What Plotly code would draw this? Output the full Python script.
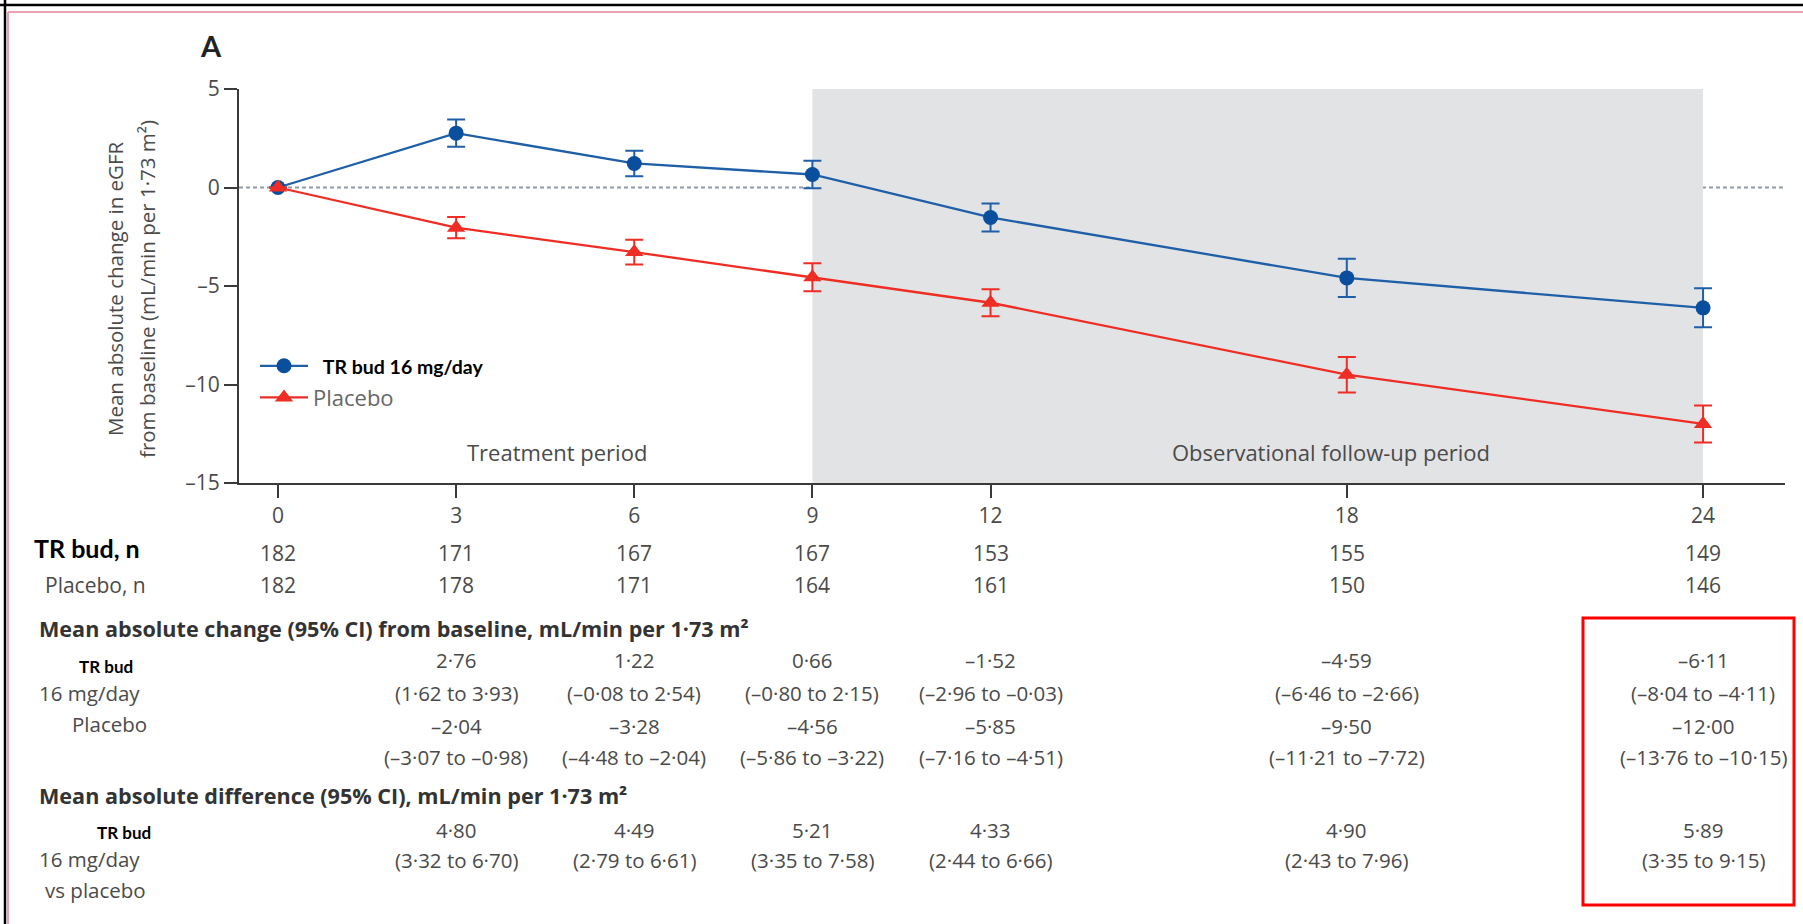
import plotly.graph_objects as go

# ---- data -------------------------------------------------------------
months = [0, 3, 6, 9, 12, 18, 24]
bud_mean = [0.0, 2.76, 1.22, 0.66, -1.52, -4.59, -6.11]
pbo_mean = [0.0, -2.04, -3.28, -4.56, -5.85, -9.50, -12.00]
bud_err = [0.0, 0.69, 0.65, 0.70, 0.71, 0.97, 0.99]
pbo_err = [0.0, 0.54, 0.63, 0.71, 0.68, 0.90, 0.94]

bud_n = [182, 171, 167, 167, 153, 155, 149]
pbo_n = [182, 178, 171, 164, 161, 150, 146]

table_months = [3, 6, 9, 12, 18, 24]
bud_change = [2.76, 1.22, 0.66, -1.52, -4.59, -6.11]
bud_change_lo = [1.62, -0.08, -0.80, -2.96, -6.46, -8.04]
bud_change_hi = [3.93, 2.54, 2.15, -0.03, -2.66, -4.11]
pbo_change = [-2.04, -3.28, -4.56, -5.85, -9.50, -12.00]
pbo_change_lo = [-3.07, -4.48, -5.86, -7.16, -11.21, -13.76]
pbo_change_hi = [-0.98, -2.04, -3.22, -4.51, -7.72, -10.15]
diff = [4.80, 4.49, 5.21, 4.33, 4.90, 5.89]
diff_lo = [3.32, 2.79, 3.35, 2.44, 2.43, 3.35]
diff_hi = [6.70, 6.61, 7.58, 6.66, 7.96, 9.15]

x_ticks = [0, 3, 6, 9, 12, 18, 24]
y_ticks = [-15, -10, -5, 0, 5]

# ---- styling ----------------------------------------------------------
BLUE = "#0a4f9e"
BLUE_LINE = "#1f5fa8"
RED = "#ee2d24"
GREY_TXT = "#4a4a4a"
AXIS = "#3a3a3a"
FONT = "Open Sans"
BOLD = "Lato"

W, H = 1803, 924
L, T, R, B = 239, 89, 1785, 483


def px(xp):
    return (xp - L) / (R - L)


def py(yp):
    return (B - yp) / (B - T)


def fmt(v):
    return f"{v:.2f}".replace(".", "\u00b7").replace("-", "\u2013")


def ci(lo, hi):
    return f"({fmt(lo)} to {fmt(hi)})"


fig = go.Figure()

fig.add_trace(go.Scatter(
    x=months, y=bud_mean, mode="lines+markers",
    name="<span style='font-family:Lato;font-size:19.5px;color:#000'>\u2002<b>TR bud 16 mg/day</b></span>",
    line=dict(color=BLUE_LINE, width=2.3),
    marker=dict(symbol="circle", size=15, color=BLUE),
    error_y=dict(type="data", array=bud_err, color=BLUE_LINE, thickness=2, width=9),
))
fig.add_trace(go.Scatter(
    x=months, y=pbo_mean, mode="lines+markers",
    name="Placebo",
    line=dict(color=RED, width=2.3),
    marker=dict(symbol="triangle-up", size=16, color=RED),
    error_y=dict(type="data", array=pbo_err, color=RED, thickness=2, width=9),
))

shapes = [
    # observational follow-up period
    dict(type="rect", xref="x", yref="y", x0=9, x1=24, y0=-15, y1=5,
         fillcolor="#e2e3e5", line=dict(width=0), layer="below"),
    # zero reference
    dict(type="line", xref="paper", yref="y", x0=0, x1=1, y0=0, y1=0,
         line=dict(color="#8c9ca2", width=2, dash="4px,3px"), layer="below"),
    # frame
    dict(type="line", xref="paper", yref="paper", x0=px(0), x1=px(W), y0=py(5), y1=py(5),
         line=dict(color="#000", width=2.5)),
    dict(type="line", xref="paper", yref="paper", x0=px(5), x1=px(5), y0=py(0), y1=py(H),
         line=dict(color="#000", width=2.5)),
    dict(type="line", xref="paper", yref="paper", x0=px(8), x1=px(W), y0=py(12), y1=py(12),
         line=dict(color="#e9a2b4", width=2)),
    dict(type="line", xref="paper", yref="paper", x0=px(8), x1=px(8), y0=py(12), y1=py(H),
         line=dict(color="#e9a2b4", width=2)),
    # highlight around the 24-month column
    dict(type="rect", xref="paper", yref="paper", x0=px(1583), x1=px(1794),
         y0=py(905), y1=py(618), line=dict(color="#ff0000", width=3)),
]

ann = []


def add(text, x, y, size=20.5, color=GREY_TXT, family=FONT, xref="paper",
        xanchor="center", angle=0):
    ann.append(dict(text=text, x=x, y=py(y), xref=xref, yref="paper",
                    xanchor=xanchor, yanchor="middle", showarrow=False,
                    textangle=angle, font=dict(size=size, color=color, family=family)))


add("<b>A</b>", px(211), 45, size=29, color="#222", family=BOLD)

# y-axis title, two lines
add("Mean absolute change in eGFR", px(115), 289, size=20.5, angle=-90)
add("from baseline (mL/min per 1\u00b773 m\u00b2)", px(147), 289, size=20.5, angle=-90)

add("Treatment period", px(557), 452, size=22)
add("Observational follow-up period", px(1331), 452, size=22)

# numbers at risk
add("<b>TR bud, n</b>", px(32), 548, size=25, color="#000", family=BOLD, xanchor="left")
add("Placebo, n", px(148), 585, size=21, xanchor="right")
for m, nb, npb in zip(months, bud_n, pbo_n):
    add(str(nb), m, 553, size=21, xref="x")
    add(str(npb), m, 585, size=21, xref="x")

# mean change block
add("<b>Mean absolute change (95% CI) from baseline, mL/min per 1\u00b773 m\u00b2</b>",
    px(37), 628, size=21.6, color="#333", family=FONT, xanchor="left")
add("<b>TR bud</b>", px(77), 666, size=17, color="#000", family=BOLD, xanchor="left")
add("16 mg/day", px(37), 693, xanchor="left")
add("Placebo", px(149), 724, xanchor="right")
for m, v, lo, hi, pv, plo, phi in zip(table_months, bud_change, bud_change_lo, bud_change_hi,
                                      pbo_change, pbo_change_lo, pbo_change_hi):
    add(fmt(v), m, 660, xref="x")
    add(ci(lo, hi), m, 693, xref="x")
    add(fmt(pv), m, 726, xref="x")
    add(ci(plo, phi), m, 757, xref="x")

# difference block
add("<b>Mean absolute difference (95% CI), mL/min per 1\u00b773 m\u00b2</b>",
    px(37), 795, size=21.6, color="#333", family=FONT, xanchor="left")
add("<b>TR bud</b>", px(95), 832, size=17, color="#000", family=BOLD, xanchor="left")
add("16 mg/day", px(37), 859, xanchor="left")
add("vs placebo", px(148), 890, xanchor="right")
for m, v, lo, hi in zip(table_months, diff, diff_lo, diff_hi):
    add(fmt(v), m, 830, xref="x")
    add(ci(lo, hi), m, 860, xref="x")

fig.update_layout(
    width=W, height=H,
    margin=dict(l=L, r=W - R, t=T, b=H - B),
    plot_bgcolor="white", paper_bgcolor="white",
    font=dict(family=FONT, size=20, color=GREY_TXT),
    showlegend=True,
    legend=dict(x=px(255), y=py(345), xanchor="left", yanchor="top",
                bgcolor="rgba(0,0,0,0)", font=dict(size=22, color="#666", family=FONT),
                tracegroupgap=0, itemwidth=48),
    xaxis=dict(range=[-0.657, 25.38], tickvals=x_ticks, ticktext=[str(t) for t in x_ticks],
               showline=True, linecolor=AXIS, linewidth=2, ticks="outside", ticklen=13,
               tickwidth=2, tickcolor=AXIS, showgrid=False, zeroline=False,
               tickfont=dict(size=21, color=GREY_TXT)),
    yaxis=dict(range=[-15, 5], tickvals=y_ticks,
               ticktext=[str(t).replace("-", "\u2013") for t in y_ticks],
               showline=True, linecolor=AXIS, linewidth=2, ticks="outside", ticklen=13,
               tickwidth=2, tickcolor=AXIS, showgrid=False, zeroline=False,
               tickfont=dict(size=21, color=GREY_TXT)),
    shapes=shapes,
    annotations=ann,
)

fig.write_html("out.html")
